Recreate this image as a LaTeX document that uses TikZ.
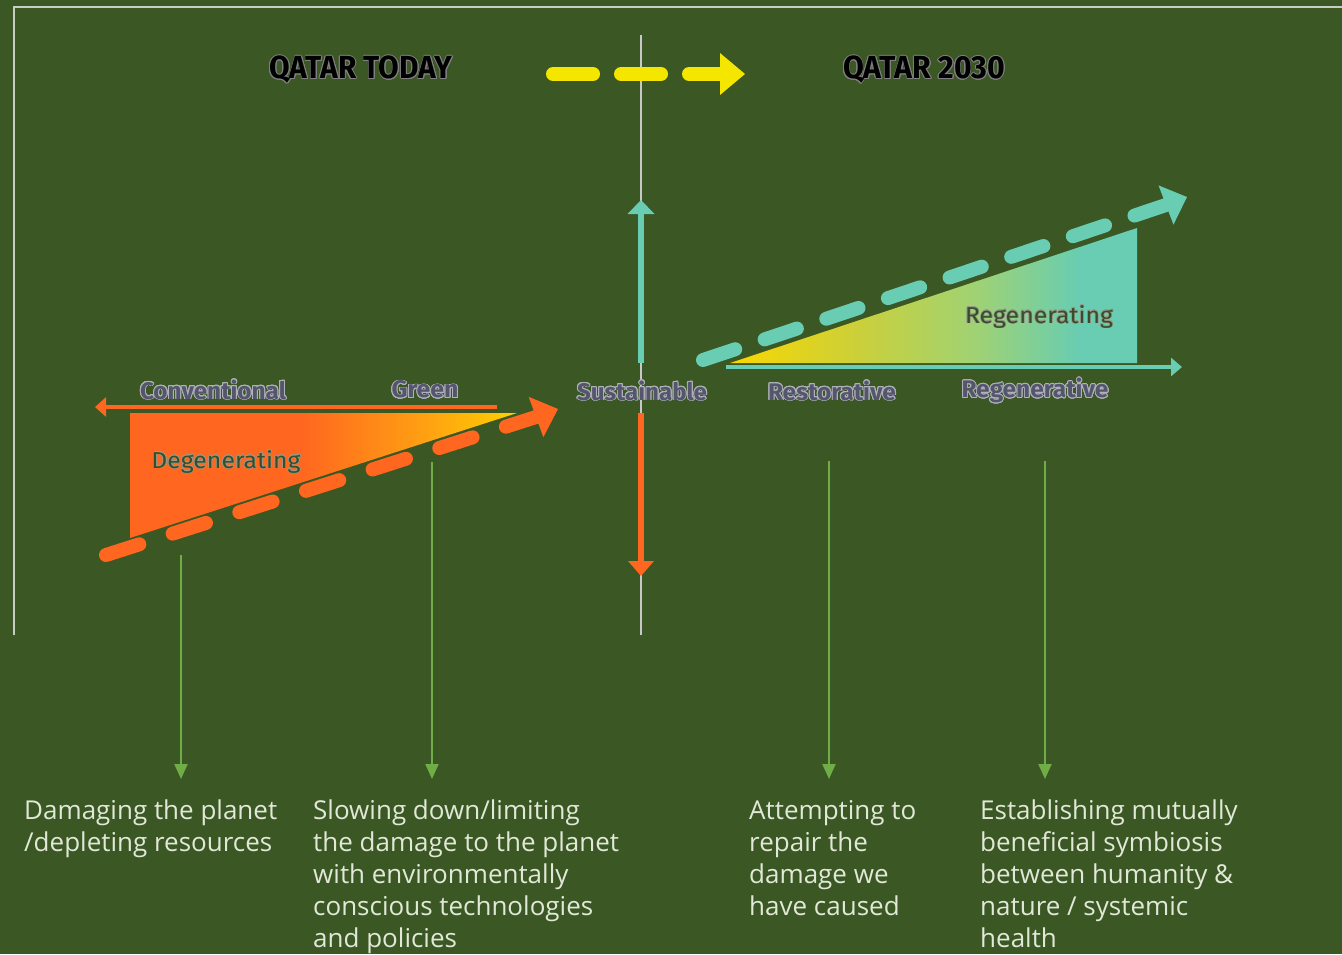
\documentclass[tikz,border=0pt]{standalone}
\usepackage{fontspec}
\setmainfont{Open Sans}
\newfontfamily\dinfont{Fira Sans}[FakeStretch=0.85]
\newfontfamily\dinmed{Fira Sans}[FakeStretch=0.95]
\usepackage{graphicx}
\usepackage{contour}
\contourlength{0.7pt}
\usetikzlibrary{arrows.meta,calc}
\definecolor{bg}{RGB}{58,87,36}
\definecolor{frameC}{RGB}{200,205,195}
\definecolor{axisC}{RGB}{200,200,200}
\definecolor{orangeC}{RGB}{255,102,32}
\definecolor{orangeM}{RGB}{255,160,18}
\definecolor{yellowC}{RGB}{255,208,0}
\definecolor{yelR}{RGB}{250,215,0}
\definecolor{ygR}{RGB}{205,208,55}
\definecolor{lgR}{RGB}{160,210,115}
\definecolor{tealC}{RGB}{104,205,178}
\definecolor{yelA}{RGB}{245,230,0}
\definecolor{lblC}{RGB}{85,85,110}
\definecolor{lblO}{RGB}{175,178,185}
\definecolor{innC}{RGB}{55,78,40}
\definecolor{innO}{RGB}{150,155,140}
\definecolor{greenA}{RGB}{112,173,71}
\definecolor{descC}{RGB}{225,232,215}
\pgfdeclarehorizontalshading{degen}{100bp}{color(0bp)=(orangeC); color(25bp)=(orangeC); color(47bp)=(orangeC); color(63bp)=(orangeM); color(75bp)=(yellowC); color(100bp)=(yellowC)}
\pgfdeclarehorizontalshading{regen}{100bp}{color(0bp)=(yelR); color(25bp)=(yelR); color(40bp)=(ygR); color(55bp)=(lgR); color(68bp)=(tealC); color(100bp)=(tealC)}
\newcommand\fitw[2]{\resizebox{#1pt}{\height}{#2}}
\tikzset{
  hdr/.style={inner sep=0pt, font=\dinfont\bfseries\fontsize{32}{32}\selectfont, text=black},
  lbl/.style={inner sep=0pt, font=\dinfont\bfseries\fontsize{24}{24}\selectfont, text=lblC},
  inner/.style={inner sep=0pt, font=\dinmed\fontsize{23}{23}\selectfont, text=innC},
  desc/.style={inner sep=0pt, anchor=north west, align=left, font=\fontsize{26}{32}\selectfont, text=descC},
  garrow/.style={draw=greenA, line width=2pt, -{Triangle[length=15pt,width=13pt]}},
  bigdash/.style={line width=14pt, line cap=round},
}
\begin{document}
\begin{tikzpicture}[x=1pt,y=-1pt]
\fill[bg] (0,0) rectangle (1342,954);
\useasboundingbox (0,0) rectangle (1342,954);
% frame
\draw[frameC, line width=1.5pt] (14,635) -- (14,7) -- (1342,7);
% central axis
\coordinate (axT) at (641,35);
\coordinate (axB) at (641,635);
\draw[axisC, line width=2pt] (axT) -- (axB);

% headers
\node[hdr] (today) at (361,70) {\fitw{183}{\contour{gray}{QATAR TODAY}}};
\node[hdr] (y2030) at (924,70) {\fitw{162}{\contour{gray}{QATAR 2030}}};

% yellow dashed arrow
\coordinate (ys) at (553,74);
\coordinate (yb) at (720,74);
\coordinate (yt) at (745,74);
\draw[yelA, bigdash, dash pattern=on 40pt off 28pt] (ys) -- (yb);
\fill[yelA] ($(yb)!21pt!90:(yt)$) -- (yt) -- ($(yb)!21pt!-90:(yt)$) -- cycle;

% teal vertical arrow up
\coordinate (tus) at (641,363);
\coordinate (tub) at (641,214);
\coordinate (tut) at (641,200);
\draw[tealC, line width=6pt] (tus) -- (tub);
\fill[tealC] ($(tub)!13.5pt!90:(tut)$) -- (tut) -- ($(tub)!13.5pt!-90:(tut)$) -- cycle;

% orange vertical arrow down
\coordinate (ods) at (641,413);
\coordinate (odb) at (641,561);
\coordinate (odt) at (641,576);
\draw[orangeC, line width=6pt] (ods) -- (odb);
\fill[orangeC] ($(odb)!13pt!90:(odt)$) -- (odt) -- ($(odb)!13pt!-90:(odt)$) -- cycle;

% degenerating triangle
\shade[shading=degen] (130,413) -- (517,413) -- (130,538) -- cycle;
% conventional axis
\coordinate (cvs) at (497,407);
\coordinate (cve) at (95,407);
\draw[orangeC, line width=4pt, -{Triangle[length=11pt,width=19pt]}] (cvs) -- (cve);
% orange dashed arrow
\coordinate (os) at (106,555);
\coordinate (ob) at (536,417);
\coordinate (ot) at (558,409);
\draw[orangeC, bigdash, dash pattern=on 35pt off 35pt] (os) -- (ob);
\fill[orangeC] ($(ob)!21.5pt!90:(ot)$) -- (ot) -- ($(ob)!21.5pt!-90:(ot)$) -- cycle;

% regenerating triangle
\shade[shading=regen] (730,363) -- (1137,363) -- (1137,228) -- cycle;
% teal axis
\coordinate (tas) at (726,367);
\coordinate (tae) at (1182,367);
\draw[tealC, line width=4pt, -{Triangle[length=11pt,width=18pt]}] (tas) -- (tae);
% teal dashed arrow
\coordinate (ts) at (703,360);
\coordinate (tb) at (1166,205);
\coordinate (tt) at (1187,197);
\draw[tealC, bigdash, dash pattern=on 34pt off 31pt] (ts) -- (tb);
\fill[tealC] ($(tb)!21pt!90:(tt)$) -- (tt) -- ($(tb)!21pt!-90:(tt)$) -- cycle;

% labels
\contourlength{0.8pt}
\node[lbl] (conv) at (213,390) {\fitw{146}{\contour{lblO}{Conventional}}};
\node[lbl] (green) at (425,390) {\fitw{67}{\contour{lblO}{Green}}};
\node[lbl] (sust) at (642,391) {\fitw{130}{\contour{lblO}{Sustainable}}};
\node[lbl] (rest) at (832,391) {\fitw{128}{\contour{lblO}{Restorative}}};
\node[lbl] (regv) at (1035,391) {\fitw{147}{\contour{lblO}{Regenerative}}};
\contourlength{0.5pt}
\node[inner] (degen) at (226,462) {\fitw{149}{\contour{innO}{Degenerating}}};
\node[inner] (regen) at (1039,317) {\fitw{148}{\contour{innO}{Regenerating}}};

% descriptions
\node[desc] (d1) at (24,800) {Damaging the planet\\/depleting resources};
\node[desc] (d2) at (313,800) {Slowing down/limiting\\the damage to the planet\\with environmentally\\conscious technologies\\and policies};
\node[desc] (d3) at (749,800) {Attempting to\\repair the\\damage we\\have caused};
\node[desc] (d4) at (980,800) {Establishing mutually\\beneficial symbiosis\\between humanity \&\\nature / systemic\\health};

% green pointer arrows
\coordinate (g1s) at (181,555);
\coordinate (g1e) at (181,779);
\coordinate (g2s) at (432,462);
\coordinate (g2e) at (432,779);
\coordinate (g3s) at (829,461);
\coordinate (g3e) at (829,779);
\coordinate (g4s) at (1045,461);
\coordinate (g4e) at (1045,779);
\draw[garrow] (g1s) -- (g1e);
\draw[garrow] (g2s) -- (g2e);
\draw[garrow] (g3s) -- (g3e);
\draw[garrow] (g4s) -- (g4e);
\end{tikzpicture}
\end{document}
